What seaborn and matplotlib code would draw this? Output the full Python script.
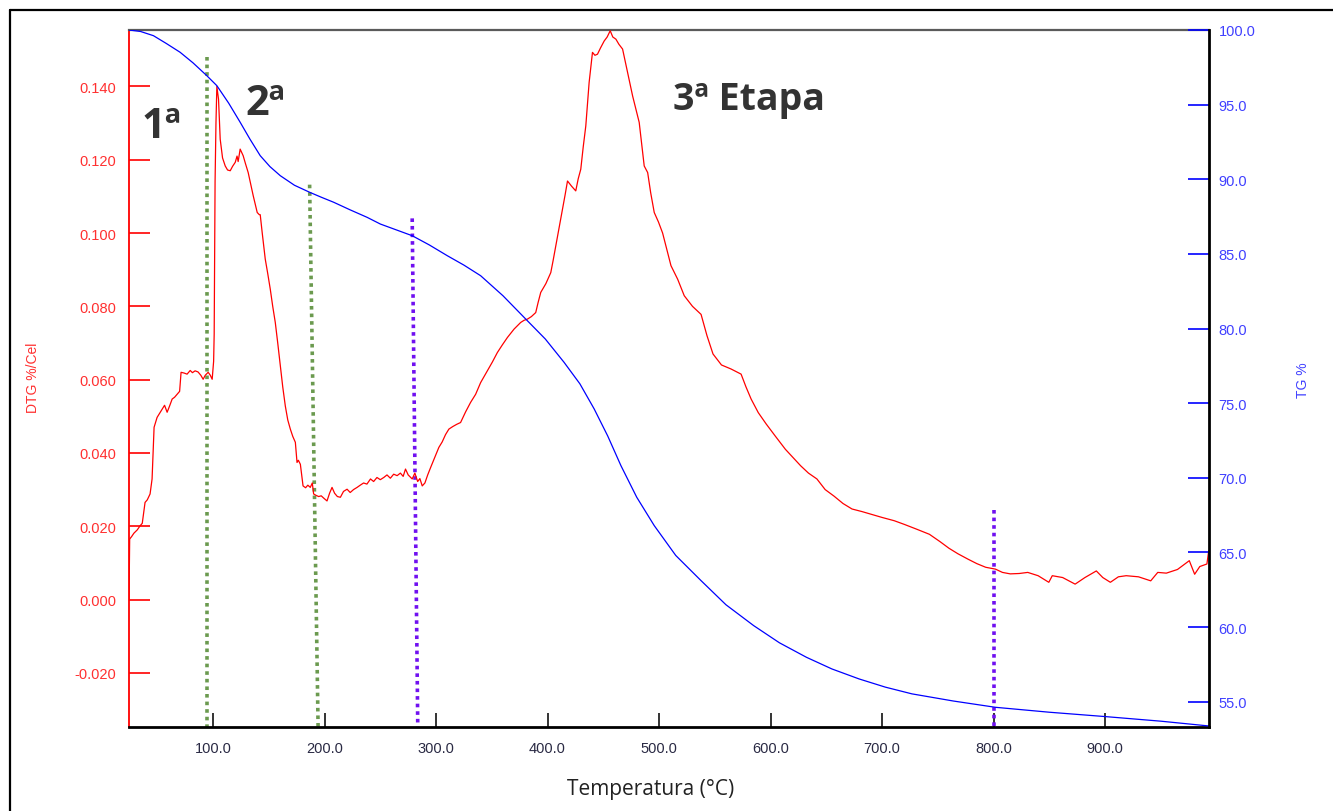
import matplotlib
matplotlib.use("Agg")
import matplotlib.pyplot as plt
from matplotlib.lines import Line2D
from matplotlib.ticker import FormatStrFormatter, FixedLocator
import numpy as np
import pandas as pd
import seaborn as sns

# --- DTG curve (%/°C) ---
dtg_temp = [24.6, 25.2, 27.0, 29.0, 32.0, 34.5, 36.5, 39.0, 41.0, 43.5, 45.3, 47.1, 49.8, 52.0,
            54.3, 56.5, 58.8, 61.0, 63.3, 65.5, 67.7, 70.0, 71.3, 74.0, 76.7, 79.5, 81.5, 83.9,
            86.5, 89.0, 91.1, 93.0, 95.6, 97.5, 99.2, 100.5, 101.0, 101.8, 102.6, 103.4, 104.9,
            106.4, 108.5, 110.9, 113.0, 115.4, 117.5, 119.9, 121.5, 122.5, 124.3, 127.0, 129.0,
            131.5, 134.0, 136.0, 139.6, 141.5, 142.3, 144.1, 146.8, 149.0, 151.3, 153.5, 155.8,
            158.0, 160.3, 162.5, 164.8, 167.0, 169.3, 171.5, 173.8, 175.3, 176.5, 178.3, 180.7,
            183.0, 185.0, 187.2, 189.0, 190.2, 192.5, 194.7, 197.0, 199.5, 202.2, 204.5, 206.7,
            209.0, 211.5, 214.2, 217.0, 220.2, 223.0, 226.0, 229.2, 232.0, 235.0, 238.0, 241.2,
            244.0, 247.0, 250.0, 253.1, 256.0, 259.0, 262.0, 265.1, 268.0, 270.5, 272.6, 275.0,
            278.6, 281.0, 283.5, 285.5, 287.6, 290.0, 292.5, 295.1, 298.5, 302.5, 305.5, 308.5,
            311.5, 315.0, 318.5, 322.0, 326.5, 331.0, 335.5, 340.0, 343.0, 346.0, 350.5, 355.0,
            359.5, 364.0, 370.0, 375.9, 379.0, 381.9, 385.5, 389.4, 391.5, 393.9, 398.5, 402.9,
            405.0, 407.4, 410.5, 413.4, 415.8, 417.9, 421.5, 425.3, 427.5, 429.8, 432.0, 434.3,
            437.3, 440.3, 442.5, 444.8, 447.5, 450.8, 453.5, 456.2, 458.5, 461.3, 464.0, 467.3,
            471.8, 476.3, 482.2, 486.7, 489.8, 492.5, 495.7, 499.5, 503.2, 507.0, 510.7, 516.7,
            522.6, 530.0, 537.7, 543.0, 548.4, 556.0, 564.6, 573.6, 578.0, 582.6, 589.0, 596.1,
            604.5, 613.3, 620.0, 627.0, 634.0, 641.6, 649.0, 657.0, 665.0, 673.1, 682.0, 691.0,
            700.0, 711.0, 720.0, 731.0, 742.5, 752.0, 760.0, 768.0, 777.2, 785.0, 793.0, 801.7,
            808.0, 815.0, 823.0, 830.7, 840.0, 849.6, 852.7, 862.0, 873.2, 882.0, 892.2, 898.0,
            904.8, 912.0, 919.0, 930.0, 941.0, 947.3, 955.0, 965.0, 975.6, 980.4, 985.0, 991.4,
            993.0]
dtg_value = [0.0000, 0.0165, 0.0172, 0.0181, 0.0190, 0.0201, 0.0208, 0.0265, 0.0272, 0.0288,
             0.0329, 0.0470, 0.0497, 0.0508, 0.0520, 0.0530, 0.0511, 0.0528, 0.0547, 0.0552,
             0.0560, 0.0568, 0.0620, 0.0618, 0.0615, 0.0625, 0.0619, 0.0624, 0.0621, 0.0612,
             0.0601, 0.0612, 0.0620, 0.0612, 0.0601, 0.0650, 0.0724, 0.1140, 0.1300, 0.1400,
             0.1365, 0.1256, 0.1205, 0.1183, 0.1172, 0.1170, 0.1182, 0.1193, 0.1210, 0.1195,
             0.1229, 0.1211, 0.1190, 0.1165, 0.1130, 0.1102, 0.1056, 0.1050, 0.1050, 0.1000,
             0.0929, 0.0890, 0.0847, 0.0800, 0.0756, 0.0700, 0.0638, 0.0580, 0.0528, 0.0490,
             0.0465, 0.0445, 0.0429, 0.0374, 0.0380, 0.0369, 0.0310, 0.0305, 0.0312, 0.0306,
             0.0318, 0.0288, 0.0284, 0.0281, 0.0283, 0.0276, 0.0269, 0.0290, 0.0306, 0.0290,
             0.0281, 0.0279, 0.0295, 0.0301, 0.0292, 0.0300, 0.0306, 0.0312, 0.0318, 0.0315,
             0.0329, 0.0322, 0.0333, 0.0327, 0.0333, 0.0340, 0.0331, 0.0342, 0.0338, 0.0345,
             0.0336, 0.0356, 0.0340, 0.0329, 0.0345, 0.0322, 0.0330, 0.0310, 0.0318, 0.0340,
             0.0360, 0.0385, 0.0415, 0.0430, 0.0450, 0.0465, 0.0472, 0.0478, 0.0483, 0.0512,
             0.0538, 0.0560, 0.0592, 0.0608, 0.0624, 0.0648, 0.0674, 0.0695, 0.0715, 0.0738,
             0.0756, 0.0762, 0.0765, 0.0772, 0.0783, 0.0810, 0.0838, 0.0862, 0.0892, 0.0925,
             0.0965, 0.1015, 0.1065, 0.1105, 0.1142, 0.1128, 0.1115, 0.1148, 0.1174, 0.1235,
             0.1292, 0.1411, 0.1493, 0.1485, 0.1488, 0.1505, 0.1524, 0.1535, 0.1552, 0.1535,
             0.1529, 0.1515, 0.1502, 0.1438, 0.1374, 0.1302, 0.1183, 0.1165, 0.1110, 0.1056,
             0.1030, 0.1000, 0.0955, 0.0911, 0.0874, 0.0829, 0.0800, 0.0778, 0.0720, 0.0670,
             0.0640, 0.0629, 0.0615, 0.0580, 0.0547, 0.0510, 0.0479, 0.0445, 0.0410, 0.0388,
             0.0365, 0.0345, 0.0329, 0.0300, 0.0282, 0.0262, 0.0247, 0.0240, 0.0232, 0.0224,
             0.0215, 0.0205, 0.0192, 0.0178, 0.0158, 0.0140, 0.0125, 0.0110, 0.0098, 0.0088,
             0.0083, 0.0074, 0.0070, 0.0071, 0.0074, 0.0065, 0.0047, 0.0065, 0.0060, 0.0042,
             0.0060, 0.0078, 0.0060, 0.0047, 0.0062, 0.0065, 0.0062, 0.0051, 0.0074, 0.0072,
             0.0082, 0.0106, 0.0069, 0.0090, 0.0097, 0.0133]

# --- TG curve (% mass) ---
tg_temp = [24.6, 35.0, 46.5, 58.0, 70.4, 82.0, 94.4, 103.4, 114.0, 124.3, 133.0, 142.3, 151.0,
           160.3, 173.0, 186.6, 197.0, 208.2, 223.0, 238.2, 250.1, 264.0, 278.6, 294.0, 310.1,
           325.0, 340.0, 360.0, 380.4, 398.0, 414.8, 429.0, 441.8, 454.0, 465.8, 480.0, 495.7,
           515.0, 537.6, 560.0, 584.9, 608.0, 632.2, 655.0, 679.4, 703.0, 726.8, 764.0, 801.7,
           850.0, 901.5, 950.0, 993.0]
tg_value = [100.0, 99.9, 99.62, 99.1, 98.51, 97.8, 96.94, 96.27, 95.1, 93.82, 92.7, 91.58, 90.85,
            90.24, 89.6, 89.13, 88.8, 88.46, 87.95, 87.45, 87.0, 86.62, 86.22, 85.6, 84.88,
            84.25, 83.54, 82.2, 80.64, 79.3, 77.74, 76.3, 74.62, 72.8, 70.82, 68.7, 66.8,
            64.8, 63.12, 61.5, 60.10, 58.95, 57.98, 57.2, 56.53, 55.98, 55.53, 55.05, 54.63,
            54.3, 54.0, 53.7, 53.38]

# --- stage boundaries (dotted markers) ---
stage_x_top = [94.4, 186.6, 278.6, 800.0]
stage_x_bottom = [94.4, 194.2, 283.6, 800.0]
stage_dtg_top = [0.148, 0.1132, 0.1040, 0.0243]
stage_colors = ["#6b9a4f", "#6b9a4f", "#7010f0", "#7010f0"]

stage_labels = ["1ª", "2ª", "3ª Etapa"]
stage_label_x = [35.4, 128.8, 512.5]
stage_label_y = [0.1262, 0.1324, 0.1338]
stage_label_size = [30, 30, 27]

x_ticks = [100, 200, 300, 400, 500, 600, 700, 800, 900]
dtg_ticks = [-0.02, 0.0, 0.02, 0.04, 0.06, 0.08, 0.10, 0.12, 0.14]
tg_ticks = [55, 60, 65, 70, 75, 80, 85, 90, 95, 100]

sns.set_theme(style="white")
plt.rcParams["font.family"] = ["Liberation Sans", "DejaVu Sans"]

W, H = 1333, 812
fig = plt.figure(figsize=(W / 100, H / 100), dpi=100)
fig.patch.set_facecolor("white")
ax = fig.add_axes([129 / W, 1 - 727.7 / H, (1208.7 - 129) / W, (727.7 - 31) / H])

dtg_df = pd.DataFrame({"T": dtg_temp, "DTG": dtg_value})
tg_df = pd.DataFrame({"T": tg_temp, "TG": tg_value})

x_min, x_max = 24.6, 993.0
dtg_min, dtg_max = -0.0347, 0.1554
ax.set_xlim(x_min, x_max)
ax.set_ylim(dtg_min, dtg_max)

# stage boundaries
for xt, xb, yt, c in zip(stage_x_top, stage_x_bottom, stage_dtg_top, stage_colors):
    ax.plot([xt, xb], [yt, dtg_min], color=c, lw=2.6, linestyle=(0, (1.0, 1.1)),
            dash_capstyle="butt", zorder=2)

sns.lineplot(data=dtg_df, x="T", y="DTG", ax=ax, color="#ff0000", lw=0.9,
             estimator=None, sort=False, zorder=3)

ax2 = ax.twinx()
sns.lineplot(data=tg_df, x="T", y="TG", ax=ax2, color="#0000ff", lw=0.9,
             estimator=None, sort=False)
ax2.set_ylim(53.33, 100.0)
ax.set_xlim(x_min, x_max)

for lab, lx, ly, fs in zip(stage_labels, stage_label_x, stage_label_y, stage_label_size):
    ax.text(lx, ly, lab, fontsize=fs, fontweight="bold", color="#333333",
            family=["Open Sans", "DejaVu Sans"], ha="left", va="baseline", zorder=5)

ax.xaxis.set_major_locator(FixedLocator(x_ticks))
ax.xaxis.set_major_formatter(FormatStrFormatter("%.1f"))
ax.yaxis.set_major_locator(FixedLocator(dtg_ticks))
ax.yaxis.set_major_formatter(FormatStrFormatter("%.3f"))
ax2.yaxis.set_major_locator(FixedLocator(tg_ticks))
ax2.yaxis.set_major_formatter(FormatStrFormatter("%.1f"))

ax.tick_params(axis="y", which="major", direction="in", length=15, width=1.2,
               color="#ff0000", labelcolor="#ff3030", labelsize=10.5, pad=9,
               left=True, right=False)
ax.tick_params(axis="x", which="major", direction="in", length=10, width=1.2,
               color="#111111", labelcolor="#2a2a44", labelsize=10.5, pad=10, bottom=True)
ax2.tick_params(axis="y", which="major", direction="in", length=15, width=1.2,
                color="#0000ff", labelcolor="#4040ff", labelsize=10.5, pad=7, right=True)

for a in (ax, ax2):
    a.set_xlabel("")
    a.set_ylabel("")
    a.grid(False)

ax.spines["top"].set_color("#5a5a5a")
ax.spines["top"].set_linewidth(1.6)
ax.spines["left"].set_color("#ff0000")
ax.spines["left"].set_linewidth(1.3)
ax.spines["bottom"].set_color("#000000")
ax.spines["bottom"].set_linewidth(2.0)
ax.spines["right"].set_visible(False)
for s in ("left", "top", "bottom"):
    ax2.spines[s].set_visible(False)
ax2.spines["right"].set_color("#000000")
ax2.spines["right"].set_linewidth(2.0)

fig.text(33 / W, 1 - 378 / H, "DTG %/Cel", rotation=90, color="#ff3030", fontsize=10,
         ha="center", va="center")
fig.text(1303 / W, 1 - 380 / H, "TG %", rotation=90, color="#4040ff", fontsize=10,
         ha="center", va="center")
fig.text(651 / W, 1 - 790 / H, "Temperatura (°C)", color="#222222", fontsize=15,
         family=["Open Sans", "DejaVu Sans"], ha="center", va="center")

# outer frame
fig.add_artist(Line2D([10 / W, 10 / W], [0, 1 - 11 / H], transform=fig.transFigure,
                      color="black", lw=1.6))
fig.add_artist(Line2D([10 / W, 1], [1 - 11 / H, 1 - 11 / H], transform=fig.transFigure,
                      color="black", lw=1.6))

fig.savefig("out.png", dpi=100, facecolor="white")
